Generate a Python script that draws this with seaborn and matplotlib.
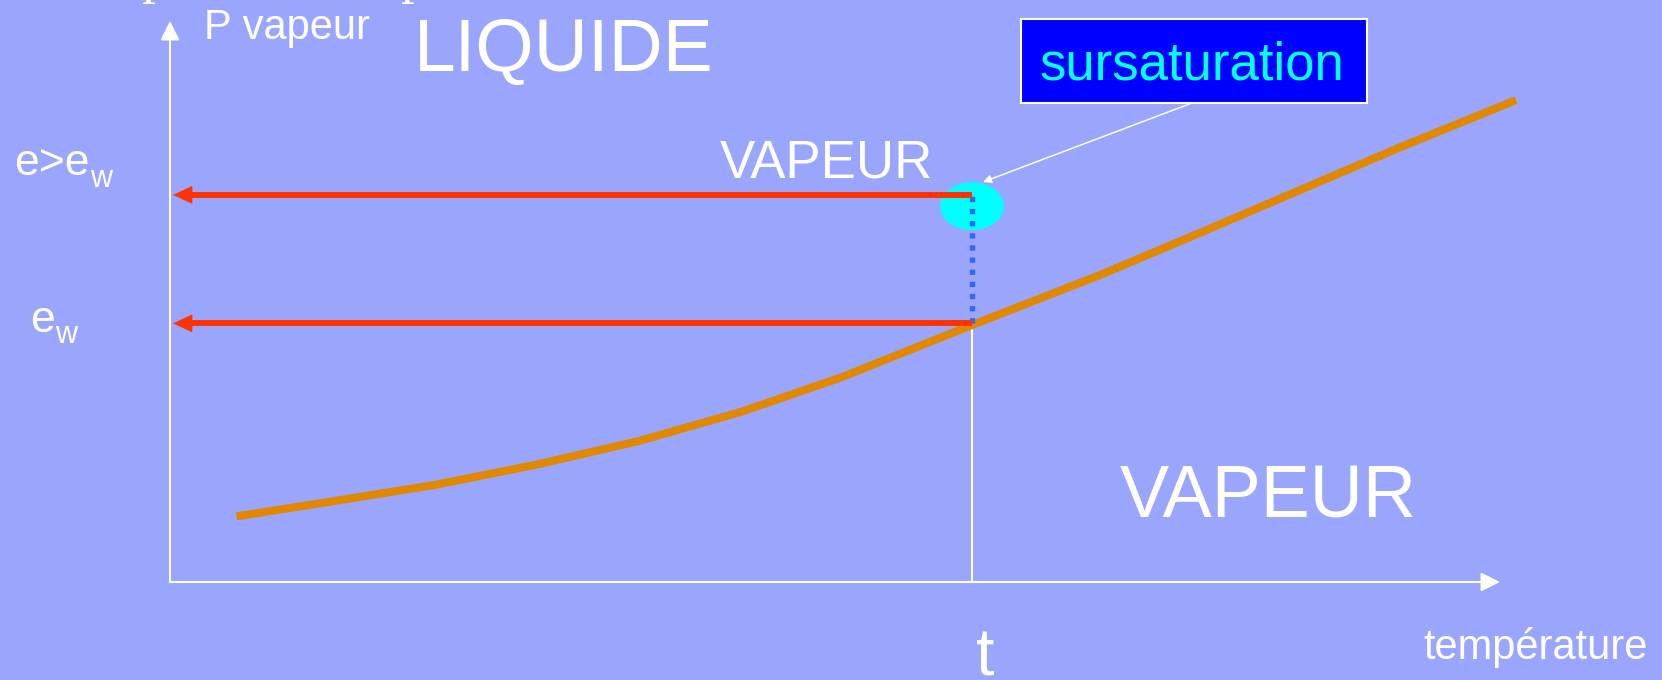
import matplotlib
matplotlib.use("Agg")
from matplotlib import pyplot as plt
from matplotlib.patches import Ellipse, Rectangle
import seaborn as sns

# Donnees (unites arbitraires : temperature 0-100, pression 0-100)
temperature = [5.0, 12.0, 19.9, 27.5, 35.2, 42.9, 50.5, 60.3, 69.9, 77.4, 85.0, 92.5, 101.2]
p_vapeur = [11.7, 14.3, 17.3, 20.9, 25.1, 30.3, 36.5, 45.8, 54.7, 62.2, 69.9, 77.5, 85.9]
t_point = 60.3
e_w = 46.1
e_sup = 69.0

fond = "#9AA6FE"
orange = "#DF8800"
rouge = "#FF3300"
bleu_pt = "#3366FF"

sns.set_theme(style="white", rc={"figure.facecolor": fond, "axes.facecolor": fond})
plt.rcParams["font.family"] = ["Liberation Sans", "DejaVu Sans"]

W, H = 1662, 680
fig = plt.figure(figsize=(W / 100, H / 100), dpi=100)
ax = fig.add_axes([170 / W, (H - 582) / H, 1330 / W, 561 / H])
ax.set_xlim(0, 100)
ax.set_ylim(0, 100)


def px(x, y):
    return x / W, 1 - y / H


# axes avec fleches
fleche = dict(arrowstyle="-|>,head_length=0.4,head_width=0.2", color="white",
              lw=1.5, mutation_scale=29, shrinkA=0, shrinkB=0)
ax.annotate("", xy=(100, 0), xytext=(0, 0), arrowprops=fleche, annotation_clip=False)
ax.annotate("", xy=(0, 100), xytext=(0, 0), arrowprops=fleche, annotation_clip=False)

# trait vertical blanc sous t
ax.plot([t_point, t_point], [0, e_w], color="white", lw=1.5, zorder=2)

# courbe de pression de vapeur saturante
sns.lineplot(x=temperature, y=p_vapeur, color=orange, ax=ax, zorder=4,
             solid_capstyle="butt", solid_joinstyle="round", clip_on=False)
ax.lines[-1].set_linewidth(5.8)

# zone de sursaturation
ax.add_patch(Ellipse((t_point, 67.0), 4.81, 8.56, color="#00FFFF", zorder=3, lw=0))

# pointilles bleus
ax.plot([t_point, t_point], [e_w, e_sup], color=bleu_pt, linewidth=3.8,
        linestyle=(0, (1, 1.3)), dash_capstyle="butt", zorder=5)

# fleches rouges vers l'axe des pressions
tete = 1.35
for niveau in [e_sup, e_w]:
    ax.plot([tete + 0.2, t_point], [niveau, niveau], color=rouge, linewidth=4.3,
            solid_capstyle="butt", zorder=6)
    ax.annotate("", xy=(0.23, niveau), xytext=(tete + 0.3, niveau),
                arrowprops=dict(arrowstyle="-|>,head_length=0.45,head_width=0.21",
                                color=rouge, lw=0.5, mutation_scale=29,
                                shrinkA=0, shrinkB=0),
                annotation_clip=False, zorder=6)

# encadre "sursaturation"
ax.add_patch(Rectangle((63.98, 85.38), 26.02, 14.98, fc="#0000FF", ec="white",
                       lw=1.5, clip_on=False, zorder=6))
ax.text(76.8, 89.5, "sursaturation", color="#00FFFF", fontsize=38,
        ha="center", va="baseline", zorder=7)
ax.annotate("", xy=(61.13, 71.30), xytext=(76.84, 85.38),
            arrowprops=dict(arrowstyle="-|>,head_length=0.4,head_width=0.2",
                            color="white", lw=1.1, mutation_scale=12,
                            shrinkA=0, shrinkB=0),
            annotation_clip=False, zorder=6)
ax.axis("off")

# textes
fig.text(*px(204, 39), "P vapeur", color="white", fontsize=30, va="baseline")
fig.text(*px(414, 71), "LIQUIDE", color="white", fontsize=54, va="baseline")
fig.text(*px(826, 178), "VAPEUR", color="white", fontsize=38, va="baseline", ha="center")
fig.text(*px(1268, 518), "VAPEUR", color="white", fontsize=53, va="baseline", ha="center")
fig.text(*px(985, 676), "t", color="white", fontsize=48, va="baseline", ha="center")
fig.text(*px(1423, 659), "température", color="white", fontsize=30, va="baseline")
fig.text(*px(14, 175), "e>e", color="white", fontsize=32, va="baseline")
fig.text(*px(90, 187), "w", color="white", fontsize=22, va="baseline")
fig.text(*px(30, 332), "e", color="white", fontsize=32, va="baseline")
fig.text(*px(55, 343), "w", color="white", fontsize=22, va="baseline")

# restes du titre coupe en haut
for xp in [141, 400]:
    fig.text(*px(xp, -8), "p", color="white", fontsize=40, va="baseline",
             family=["Liberation Serif"])

fig.savefig("out.png", dpi=100, facecolor=fond)
